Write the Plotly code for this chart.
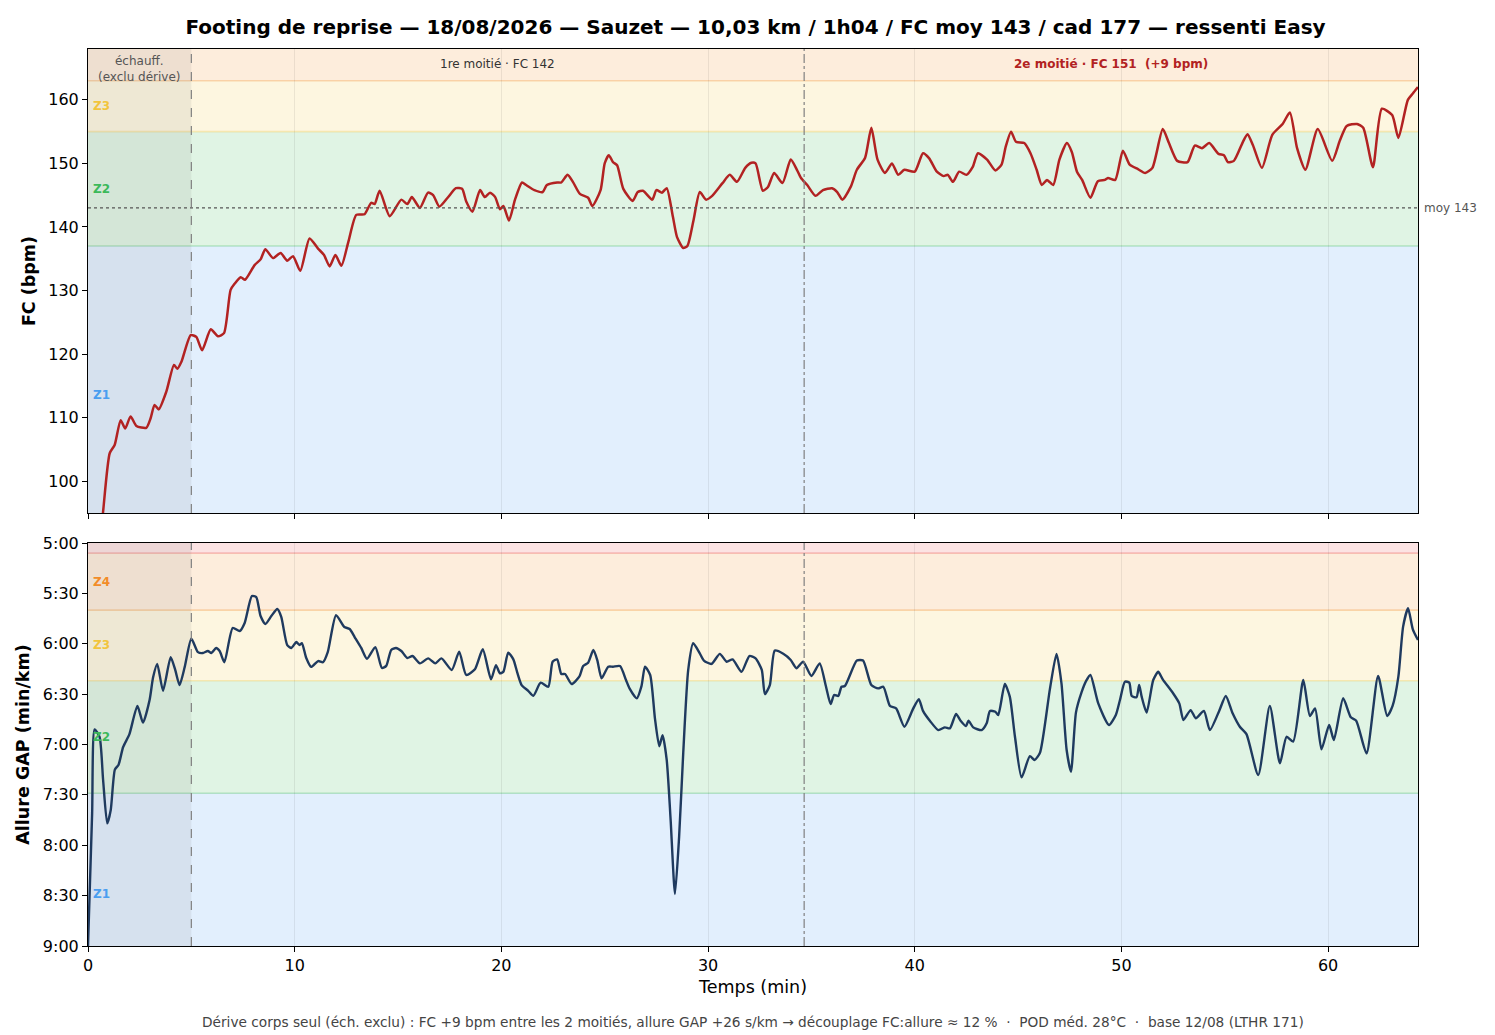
import plotly.graph_objects as go
from plotly.subplots import make_subplots

# ---- data ----
t_fc = [0.45, 0.73, 1.05, 1.29, 1.58, 1.8, 2.06, 2.34, 2.82, 3.03,
        3.22, 3.42, 3.79, 4.16, 4.32, 4.52, 4.97, 5.24, 5.52, 5.94,
        6.29, 6.58, 6.9, 7.1, 7.39, 7.6, 8.06, 8.35, 8.58, 8.95,
        9.32, 9.64, 9.92, 10.27, 10.72, 11.13, 11.42, 11.69, 11.97, 12.26,
        12.6, 12.98, 13.38, 13.7, 13.87, 14.11, 14.6, 15.16, 15.45, 15.67,
        16.06, 16.45, 16.7, 17.0, 17.4, 17.8, 18.1, 18.3, 18.6, 18.97,
        19.2, 19.45, 19.7, 19.93, 20.1, 20.37, 20.66, 21.0, 21.2, 21.6,
        22.0, 22.2, 22.7, 22.9, 23.2, 23.46, 23.8, 24.2, 24.4, 24.8,
        25.0, 25.2, 25.4, 25.6, 25.9, 26.35, 26.6, 26.85, 27.3, 27.5,
        27.77, 28.0, 28.3, 28.5, 28.8, 29.0, 29.3, 29.6, 29.9, 30.2,
        30.7, 31.05, 31.4, 31.8, 32.1, 32.3, 32.65, 32.9, 33.2, 33.6,
        34.0, 34.3, 34.5, 34.8, 35.2, 35.56, 36.0, 36.25, 36.5, 36.9,
        37.2, 37.6, 37.9, 38.2, 38.56, 38.9, 39.2, 39.5, 40.0, 40.4,
        40.7, 41.07, 41.4, 41.6, 41.85, 42.15, 42.5, 42.8, 43.06, 43.5,
        43.9, 44.2, 44.4, 44.66, 44.9, 45.3, 45.6, 45.9, 46.15, 46.4,
        46.7, 47.0, 47.36, 47.6, 47.85, 48.1, 48.5, 48.86, 49.2, 49.35,
        49.7, 50.07, 50.4, 50.8, 51.15, 51.5, 52.0, 52.3, 52.7, 53.2,
        53.55, 53.9, 54.25, 54.7, 54.96, 55.15, 55.44, 55.88, 56.1, 56.36,
        56.8, 57.3, 57.8, 58.15, 58.5, 58.9, 59.5, 60.2, 60.57, 60.9,
        61.4, 61.7, 62.17, 62.6, 63.1, 63.4, 63.86, 64.1, 64.35]
fc = [86, 95.2, 104.4, 105.7, 109.6, 108.3, 110.2, 108.7, 108.4, 109.9,
      112, 111.3, 114.1, 118.3, 117.7, 118.8, 123, 122.7, 120.6, 123.9,
      122.8, 123.3, 130.1, 131.1, 132.1, 131.7, 134, 134.9, 136.5, 135.1,
      135.9, 134.7, 135.4, 133.1, 138.2, 136.6, 135.6, 133.8, 135.6, 133.9,
      137.7, 141.9, 142, 143.8, 143.6, 145.7, 141.7, 144.3, 143.6, 144.7,
      143, 145.4, 145, 143.2, 144.6, 146.1, 146, 144, 142.4, 145.8,
      144.7, 145.4, 144.7, 142.8, 143.3, 141, 144.3, 147, 146.6, 145.8,
      145.5, 146.6, 147, 147, 148.2, 147.1, 145.2, 144.6, 143.3, 145.8,
      150, 151.3, 150.2, 149.7, 146, 144.1, 145.5, 145.7, 144.3, 145.8,
      145.4, 146.1, 141.6, 138.4, 136.7, 137, 141.1, 145.5, 144.3, 144.9,
      146.9, 148.2, 147.1, 149.3, 150.1, 150, 145.7, 146.3, 148.5, 146.9,
      150.6, 149, 147.7, 146.6, 144.9, 145.8, 146.1, 145.5, 144.3, 146.3,
      149, 150.9, 155.6, 150.6, 148.5, 150, 148.2, 149, 148.7, 151.6,
      150.8, 148.7, 148, 148.2, 147.1, 148.7, 148.2, 149.4, 151.6, 150.6,
      148.9, 149.8, 152.6, 155, 153.4, 153.2, 151.6, 149, 146.6, 147.4,
      146.6, 150.6, 153.2, 151.8, 148.7, 147.4, 144.6, 147.2, 147.4, 147.7,
      147.4, 152, 149.8, 149.1, 148.5, 149.3, 155.4, 153.2, 150.4, 150.2,
      152.8, 152.4, 153.2, 151.5, 151.3, 150.2, 150.4, 153.4, 154.6, 152.9,
      149.3, 154.5, 156.2, 158, 152.4, 149, 155.4, 150.4, 153.6, 155.9,
      156.2, 155.6, 149.4, 158.6, 157.6, 154, 160, 161, 162]

# allure GAP in seconds per km
t_gap = [0.0, 0.2, 0.32, 0.56, 0.73, 0.93, 1.1, 1.3, 1.48, 1.7,
         2.0, 2.39, 2.66, 2.98, 3.15, 3.35, 3.63, 4.0, 4.22, 4.43,
         4.68, 5.0, 5.32, 5.56, 5.8, 5.97, 6.2, 6.37, 6.6, 7.0,
         7.34, 7.58, 7.93, 8.14, 8.35, 8.58, 8.87, 9.16, 9.35, 9.64,
         9.84, 10.08, 10.24, 10.35, 10.56, 10.8, 11.13, 11.37, 11.6, 12.0,
         12.4, 12.66, 12.9, 13.22, 13.5, 13.9, 14.22, 14.43, 14.67, 14.9,
         15.16, 15.45, 15.7, 16.06, 16.46, 16.8, 17.1, 17.6, 17.96, 18.3,
         18.72, 19.1, 19.5, 19.74, 19.93, 20.1, 20.33, 20.58, 20.77, 20.98,
         21.3, 21.55, 21.9, 22.27, 22.48, 22.7, 22.9, 23.08, 23.4, 23.77,
         23.96, 24.2, 24.45, 24.64, 24.85, 25.17, 25.4, 25.74, 26.03, 26.2,
         26.55, 26.78, 26.95, 27.2, 27.43, 27.64, 27.8, 28.0, 28.19, 28.4,
         28.6, 28.8, 29.04, 29.28, 29.6, 29.8, 30.17, 30.57, 30.9, 31.19,
         31.62, 32.0, 32.3, 32.6, 32.75, 32.99, 33.23, 33.64, 34.0, 34.28,
         34.6, 35.0, 35.4, 35.7, 35.93, 36.1, 36.3, 36.46, 36.62, 37.2,
         37.5, 37.9, 38.23, 38.48, 38.8, 39.1, 39.5, 39.93, 40.2, 40.4,
         40.74, 41.14, 41.46, 41.7, 42.0, 42.22, 42.48, 42.6, 42.83, 43.24,
         43.48, 43.64, 43.9, 44.04, 44.36, 44.6, 44.85, 45.17, 45.57, 45.8,
         46.06, 46.54, 46.86, 47.1, 47.35, 47.56, 47.8, 48.07, 48.3, 48.5,
         48.88, 49.4, 49.73, 49.93, 50.17, 50.38, 50.5, 50.73, 50.86, 50.98,
         51.22, 51.54, 51.78, 52.0, 52.5, 52.8, 53.0, 53.35, 53.6, 53.99,
         54.28, 54.73, 55.05, 55.38, 55.73, 56.05, 56.62, 57.18, 57.67, 57.99,
         58.31, 58.8, 59.12, 59.37, 59.68, 60.05, 60.28, 60.73, 61.1, 61.36,
         61.86, 62.42, 62.86, 63.12, 63.4, 63.63, 63.87, 64.1, 64.35]
gap = [540, 461, 411, 415.5, 441, 467, 459, 435, 432, 421.5,
       414, 397, 407, 393.5, 380, 372, 388, 368, 375.6, 384.6,
       373.8, 357, 365, 365.5, 364.3, 365.5, 362.5, 364.3, 371, 350.6,
       352.4, 347.6, 331.6, 332.2, 343.5, 348.2, 343.5, 339.3, 344, 360.8,
       362.5, 359, 360.8, 359.6, 368.5, 373.8, 370.3, 371, 365, 343,
       350, 351.2, 356, 362.5, 369, 362, 374.4, 373.2, 363.7, 362.5,
       364.3, 368.5, 367.3, 371.7, 368.7, 371.7, 368.7, 375.6, 364.7, 378.6,
       375.2, 363.3, 381.2, 372.7, 377.6, 376.6, 365.3, 369.3, 377.2, 384.6,
       388, 391, 383.2, 385.6, 370.7, 369.3, 378, 378, 384, 379.6,
       373.3, 371.3, 363.7, 369.7, 380.6, 373.7, 373.7, 373.3, 381.6, 386.6,
       392.5, 385.2, 373.7, 378.6, 404.4, 421, 414.4, 429.2, 465, 509,
       475, 425, 375.6, 359.7, 365.7, 370, 372, 366, 370.7, 369.3,
       376.7, 367.3, 368.7, 375.6, 390, 384.6, 364.1, 366, 369.7, 374.6,
       370.7, 379.2, 371.7, 385.2, 395.9, 390.5, 391.1, 385.6, 385.2, 370,
       370, 384.6, 386.6, 385.6, 397, 398.5, 409.4, 398.5, 393, 400,
       406, 411.4, 409.8, 410.4, 401.8, 405.8, 409, 405.8, 409.8, 411.4,
       407.4, 400, 400.5, 402.5, 384, 391.5, 415.4, 439.6, 426.9, 429.2,
       424.9, 387, 366, 383.6, 423.3, 436.2, 401, 389, 382, 378.6,
       395.5, 408.4, 402.4, 393.5, 382.6, 383.2, 391.1, 391.9, 384.6, 391.5,
       401, 381.6, 376.7, 381.2, 389.5, 395.5, 405.4, 399.5, 404.4, 400,
       411.4, 400, 391.1, 401.4, 409.4, 413.8, 438.2, 397, 431.2, 415.4,
       418.3, 381.6, 403, 398.5, 422.9, 408.4, 417.3, 392.5, 403.8, 405.8,
       425.3, 379.2, 403, 397, 379.6, 349.8, 338.9, 351.4, 357.8]

assert len(t_fc) == len(fc), (len(t_fc), len(fc))
assert len(t_gap) == len(gap), (len(t_gap), len(gap))

# zones
fc_zone_names = ["Z1", "Z2", "Z3", "Z4"]
fc_zone_bounds = [60, 137, 155, 163, 200]
fc_zone_label_y = [113.5, 146, 159, None]

gap_zone_names = ["Z1", "Z2", "Z3", "Z4", "Z5"]
gap_zone_bounds = [600, 449, 382, 340, 306, 250]
gap_zone_label_y = [509, 415.5, 361, 323, None]

gap_tickvals = [300, 330, 360, 390, 420, 450, 480, 510, 540]
gap_ticktext = ["5:00", "5:30", "6:00", "6:30", "7:00", "7:30", "8:00", "8:30", "9:00"]

warmup_end = 5.0
mid_split = 34.65
t_end = 64.35
fc_mean = 143

ZONE_COLORS = {"Z1": "#4a9ef0", "Z2": "#3cb95a", "Z3": "#f2c53d",
               "Z4": "#f28c28", "Z5": "#eb5050"}
FONT = "DejaVu Sans"


def rgba(hex_color, a):
    h = hex_color.lstrip("#")
    r, g, b = int(h[0:2], 16), int(h[2:4], 16), int(h[4:6], 16)
    return f"rgba({r},{g},{b},{a})"


fig = make_subplots(rows=2, cols=1, shared_xaxes=True,
                    vertical_spacing=30 / 897, row_heights=[464, 403])

# traces first, so the row/col shape helpers see non-empty subplots
fig.add_trace(go.Scatter(x=t_fc, y=fc, mode="lines", line=dict(color="#b22222", width=2.5,
                         shape="spline", smoothing=0.6), showlegend=False), row=1, col=1)
fig.add_trace(go.Scatter(x=t_gap, y=gap, mode="lines", line=dict(color="#1f3a5f", width=2.4,
                         shape="spline", smoothing=0.6), showlegend=False), row=2, col=1)


def add_zones(row, names, bounds, label_y):
    for i, name in enumerate(names):
        lo, hi = bounds[i], bounds[i + 1]
        fig.add_hrect(y0=lo, y1=hi, row=row, col=1, fillcolor=rgba(ZONE_COLORS[name], 0.16),
                      line_width=0, layer="below")
    for i, name in enumerate(names[1:]):
        fig.add_hline(y=bounds[i + 1], row=row, col=1, line_color=rgba(ZONE_COLORS[name], 0.3),
                      line_width=1.6, layer="below")
    for name, y in zip(names, label_y):
        if y is None:
            continue
        fig.add_annotation(x=0.002, xref="x domain", y=y, yref="y" if row == 1 else "y2",
                           text=f"<b>{name}</b>", showarrow=False, xanchor="left",
                           yanchor="middle",
                           font=dict(family=FONT, size=12, color=ZONE_COLORS[name]))


add_zones(1, fc_zone_names, fc_zone_bounds, fc_zone_label_y)
add_zones(2, gap_zone_names, gap_zone_bounds, gap_zone_label_y)

for row in (1, 2):
    fig.add_vrect(x0=0, x1=warmup_end, row=row, col=1, fillcolor="rgba(110,110,110,0.1)",
                  line_width=0, layer="below")
    fig.add_vline(x=warmup_end, row=row, col=1, line_color="#808080", line_width=1.2,
                  line_dash="dash")
    fig.add_vline(x=mid_split, row=row, col=1, line_color="#808080", line_width=1.2,
                  line_dash="dashdot")

fig.add_hline(y=fc_mean, row=1, col=1, line_color="#555555", line_width=1.3, line_dash="dot")
fig.add_annotation(x=1.003, xref="x domain", y=fc_mean, yref="y", text=f"moy {fc_mean}",
                   showarrow=False, xanchor="left", yanchor="middle",
                   font=dict(family=FONT, size=12, color="#555555"))

# text in the top band
fig.add_annotation(x=warmup_end / 2, y=0.957, xref="x", yref="y domain", yanchor="middle",
                   text="échauff.<br>(exclu dérive)", showarrow=False,
                   font=dict(family=FONT, size=12, color="#555555"))
fig.add_annotation(x=(warmup_end + mid_split) / 2, y=0.968, xref="x", yref="y domain",
                   yanchor="middle", text="1re moitié · FC 142", showarrow=False,
                   font=dict(family=FONT, size=12, color="#333333"))
fig.add_annotation(x=(mid_split + t_end) / 2, y=0.968, xref="x", yref="y domain",
                   yanchor="middle", text="<b>2e moitié · FC 151  (+9 bpm)</b>", showarrow=False,
                   font=dict(family=FONT, size=12, color="#b22222"))

fig.add_annotation(x=0.5, y=-0.0847, xref="paper", yref="paper", showarrow=False,
                   yanchor="middle",
                   text="Dérive corps seul (éch. exclu) : FC +9 bpm entre les 2 moitiés, "
                        "allure GAP +26 s/km → découplage FC:allure ≈ 12 %  ·  POD méd. 28°C  ·  "
                        "base 12/08 (LTHR 171)",
                   font=dict(family=FONT, size=13.7, color="#444444"))

axis_common = dict(showline=True, mirror=True, linecolor="black", linewidth=1,
                   ticks="outside", ticklen=5, tickcolor="black",
                   tickfont=dict(family=FONT, size=16, color="black"), zeroline=False)

fig.update_xaxes(range=[0, t_end], tickvals=[0, 10, 20, 30, 40, 50, 60],
                 showgrid=True, gridcolor="rgba(0,0,0,0.07)", gridwidth=1, **axis_common)
fig.update_xaxes(showticklabels=False, row=1, col=1)
fig.update_xaxes(title=dict(text="Temps (min)", font=dict(family=FONT, size=17.5, color="black"),
                            standoff=6), row=2, col=1)

fig.update_yaxes(range=[95, 168], tickvals=[100, 110, 120, 130, 140, 150, 160], showgrid=False,
                 title=dict(text="<b>FC (bpm)</b>", font=dict(family=FONT, size=17.5, color="black"),
                            standoff=8),
                 row=1, col=1, **axis_common)
fig.update_yaxes(range=[540, 300], tickvals=gap_tickvals, ticktext=gap_ticktext, showgrid=False,
                 title=dict(text="<b>Allure GAP (min/km)</b>",
                            font=dict(family=FONT, size=17.5, color="black"), standoff=8),
                 row=2, col=1, **axis_common)

fig.update_layout(
    width=1495, height=1035,
    margin=dict(l=80, r=85, t=41, b=97),
    paper_bgcolor="white", plot_bgcolor="white",
    font=dict(family=FONT),
    title=dict(text="<b>Footing de reprise — 18/08/2026 — Sauzet — 10,03 km / 1h04 / FC moy 143 / "
                    "cad 177 — ressenti Easy</b>",
               x=0.5, xanchor="center", y=1 - 19 / 1035, yanchor="middle",
               font=dict(family=FONT, size=20, color="black")),
)

fig.write_html("out.html")
